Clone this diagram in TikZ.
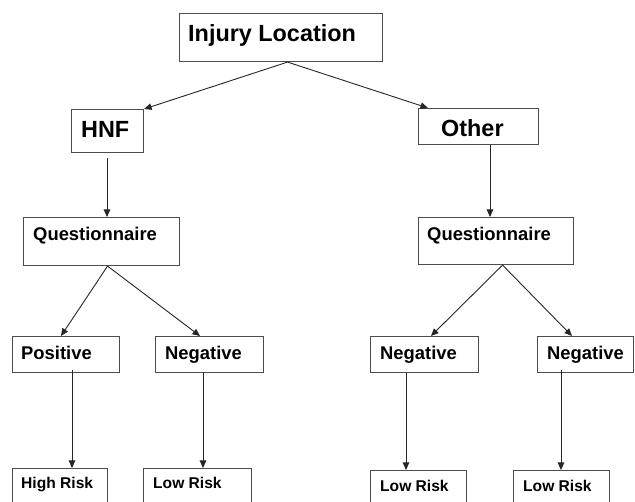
\documentclass[tikz,border=0pt]{standalone}
\usepackage{fontspec}
\setmainfont{Liberation Sans}
\usetikzlibrary{arrows.meta}
\begin{document}
\begin{tikzpicture}[x=1pt,y=-1pt,
  boxnode/.style={draw=black!70, line width=1.1pt, inner sep=0pt, anchor=north west},
  lbl/.style={anchor=base west, inner sep=0pt, font=\bfseries},
  big/.style={font=\fontsize{23.4}{26}\selectfont\bfseries},
  mid/.style={font=\fontsize{18.4}{21}\selectfont\bfseries},
  small/.style={font=\fontsize{15.6}{18}\selectfont\bfseries},
  arr/.style={draw=black!85, line width=0.9pt, -{Triangle[length=7.5pt,width=6.5pt]}}]
\clip (0,0) rectangle (635,502);
\fill[white] (0,0) rectangle (635,502);
% boxes
\node[boxnode, minimum width=203pt, minimum height=48pt] (inj) at (179,13) {};
\node[boxnode, minimum width=72pt, minimum height=43pt] (hnf) at (71,109) {};
\node[boxnode, minimum width=120pt, minimum height=36pt] (oth) at (418,108) {};
\node[boxnode, minimum width=156pt, minimum height=48pt] (q1) at (23,217) {};
\node[boxnode, minimum width=155pt, minimum height=47pt] (q2) at (418,217) {};
\node[boxnode, minimum width=107pt, minimum height=36pt] (pos) at (12,336) {};
\node[boxnode, minimum width=108pt, minimum height=36pt] (neg1) at (155,336) {};
\node[boxnode, minimum width=108pt, minimum height=36pt] (neg2) at (370,336) {};
\node[boxnode, minimum width=96pt, minimum height=36pt] (neg3) at (537,336) {};
\node[boxnode, minimum width=95pt, minimum height=52pt] (hi) at (12,468) {};
\node[boxnode, minimum width=108pt, minimum height=52pt] (lo1) at (143,468) {};
\node[boxnode, minimum width=96pt, minimum height=50pt] (lo2) at (370,470) {};
\node[boxnode, minimum width=96pt, minimum height=50pt] (lo3) at (513,470) {};
% labels
\node[lbl, big] (injt) at (188,42) {Injury Location};
\node[lbl, big] (hnft) at (81,138) {HNF};
\node[lbl, big] (otht) at (441,137) {Other};
\node[lbl, mid] (q1t) at (33,241) {Questionnaire};
\node[lbl, mid] (q2t) at (427,241) {Questionnaire};
\node[lbl, mid] (post) at (21,360) {Positive};
\node[lbl, mid] (neg1t) at (165,360) {Negative};
\node[lbl, mid] (neg2t) at (380,360) {Negative};
\node[lbl, mid] (neg3t) at (547,360) {Negative};
\node[lbl, small] (hit) at (21,489) {High Risk};
\node[lbl, small] (lo1t) at (153,489) {Low Risk};
\node[lbl, small] (lo2t) at (380,492) {Low Risk};
\node[lbl, small] (lo3t) at (523,492) {Low Risk};
% connector points
\coordinate (injb) at ([xshift=6.5pt]inj.south);
\coordinate (q1b) at ([xshift=6pt]q1.south);
\coordinate (q2b) at ([xshift=6.5pt]q2.south);
% connectors
\draw[arr] (injb) -- (hnf.north east);
\draw[arr] (injb) -- ([xshift=10pt]oth.north west);
\draw[arr] ([yshift=-5pt]hnf.south -| 107,0) -- (q1.north -| 107,0);
\draw[arr] (oth.south -| 490,0) -- (q2.north -| 490,0);
\draw[arr] (q1b) -- (pos.north -| 61,0);
\draw[arr] (q1b) -- (neg1.north -| 200,0);
\draw[arr] (q2b) -- (neg2.north -| 431,0);
\draw[arr] (q2b) -- (neg3.north -| 572,0);
\draw[arr] ([yshift=3pt]pos.south -| 72,0) -- (hi.north -| 72,0);
\draw[arr] (neg1.south -| 203,0) -- (lo1.north -| 203,0);
\draw[arr] (neg2.south -| 406,0) -- (lo2.north -| 406,0);
\draw[arr] ([yshift=3pt]neg3.south -| 561,0) -- (lo3.north -| 561,0);
\end{tikzpicture}
\end{document}
